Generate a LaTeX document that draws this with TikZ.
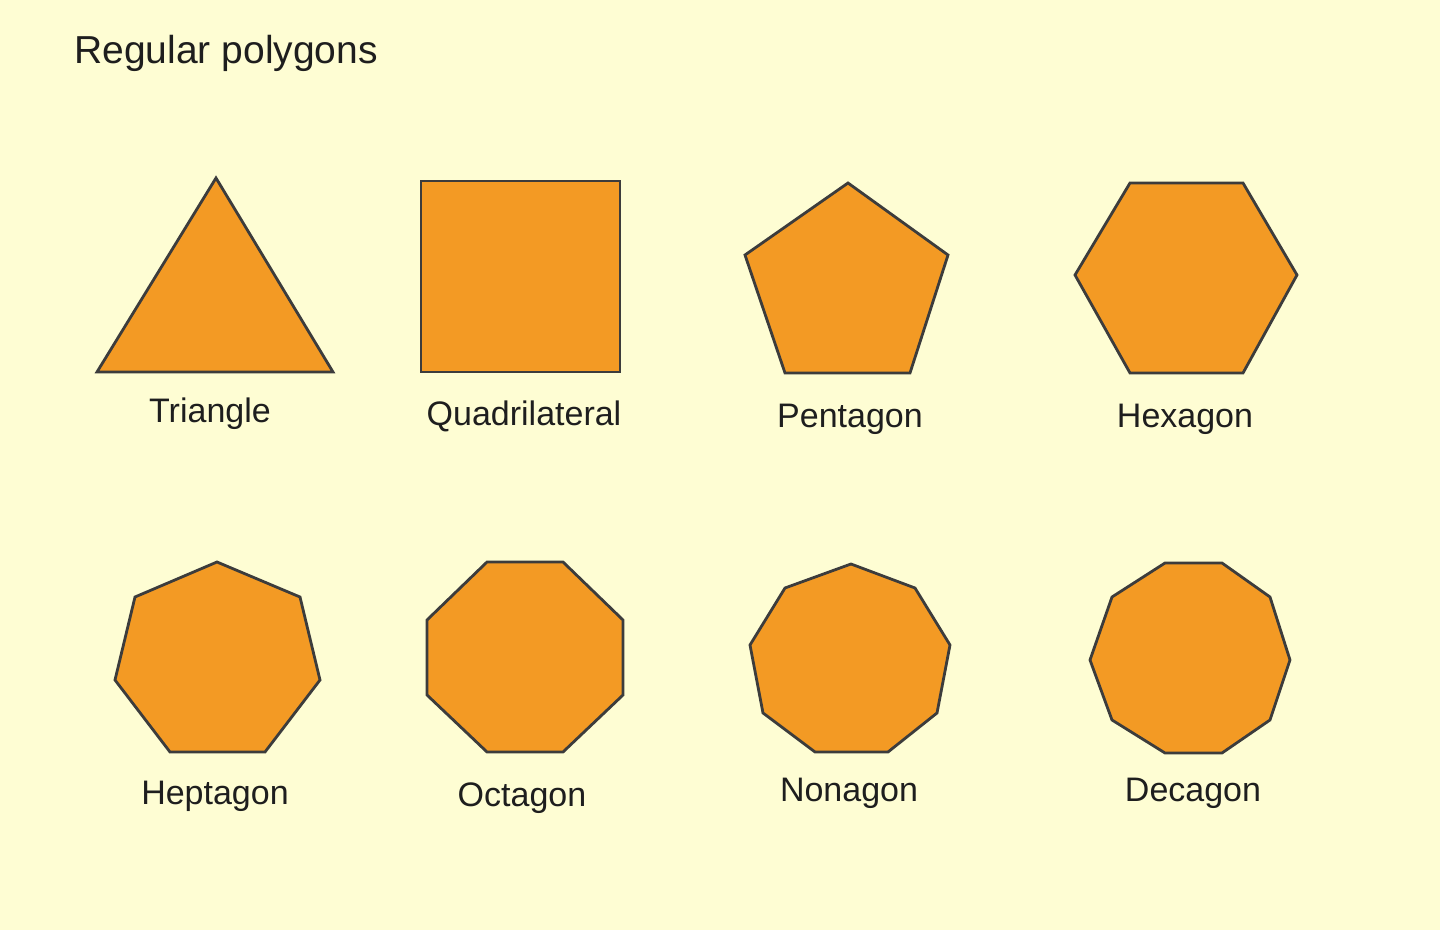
\documentclass[tikz,border=0pt]{standalone}
\usepackage{fontspec}
\setmainfont{Liberation Sans}
\definecolor{bg}{HTML}{FEFDD3}
\definecolor{fillor}{HTML}{F39A24}
\definecolor{edge}{HTML}{3C3C3C}
\definecolor{txt}{HTML}{1E1E1E}
\tikzset{
  poly/.style={fill=fillor, draw=edge, line width=1.4pt, line join=miter},
  lbl/.style={text=txt, font=\fontsize{17}{20}\selectfont, inner sep=0pt, anchor=center},
}
\begin{document}
\begin{tikzpicture}[x=0.5pt, y=-0.5pt]
\fill[bg] (0,0) rectangle (1440,930);
\useasboundingbox (0,0) rectangle (1440,930);
\node[text=txt, font=\fontsize{19.5}{22}\selectfont, inner sep=0pt, anchor=west] (title) at (74,53) {Regular polygons};
% row 1
\draw[poly] (216,178) -- (333,372) -- (97,372) -- cycle;
\draw[poly] (421,181) rectangle (620,372);
\draw[poly] (848,183) -- (948,255) -- (910,373) -- (785,373) -- (745,255) -- cycle;
\draw[poly] (1130,183) -- (1243,183) -- (1297,275) -- (1243,373) -- (1130,373) -- (1075,275) -- cycle;
% row 2
\draw[poly] (217,562) -- (300,597) -- (320,680) -- (265,752) -- (170,752) -- (115,680) -- (135,597) -- cycle;
\draw[poly] (487,562) -- (563,562) -- (623,620) -- (623,695) -- (563,752) -- (487,752) -- (427,695) -- (427,620) -- cycle;
\draw[poly] (851,564) -- (915,588) -- (950,645) -- (937,713) -- (888,752) -- (815,752) -- (763,713) -- (750,645) -- (785,588) -- cycle;
\draw[poly] (1165,563) -- (1222,563) -- (1270,597) -- (1290,660) -- (1270,720) -- (1222,753) -- (1165,753) -- (1112,720) -- (1090,660) -- (1112,597) -- cycle;
% labels
\node[lbl] (l3) at (210,414) {Triangle};
\node[lbl] (l4) at (524,416) {Quadrilateral};
\node[lbl] (l5) at (850,419) {Pentagon};
\node[lbl] (l6) at (1185,419) {Hexagon};
\node[lbl] (l7) at (215,796) {Heptagon};
\node[lbl] (l8) at (522,798) {Octagon};
\node[lbl] (l9) at (849,793) {Nonagon};
\node[lbl] (l10) at (1193,793) {Decagon};
\end{tikzpicture}
\end{document}
